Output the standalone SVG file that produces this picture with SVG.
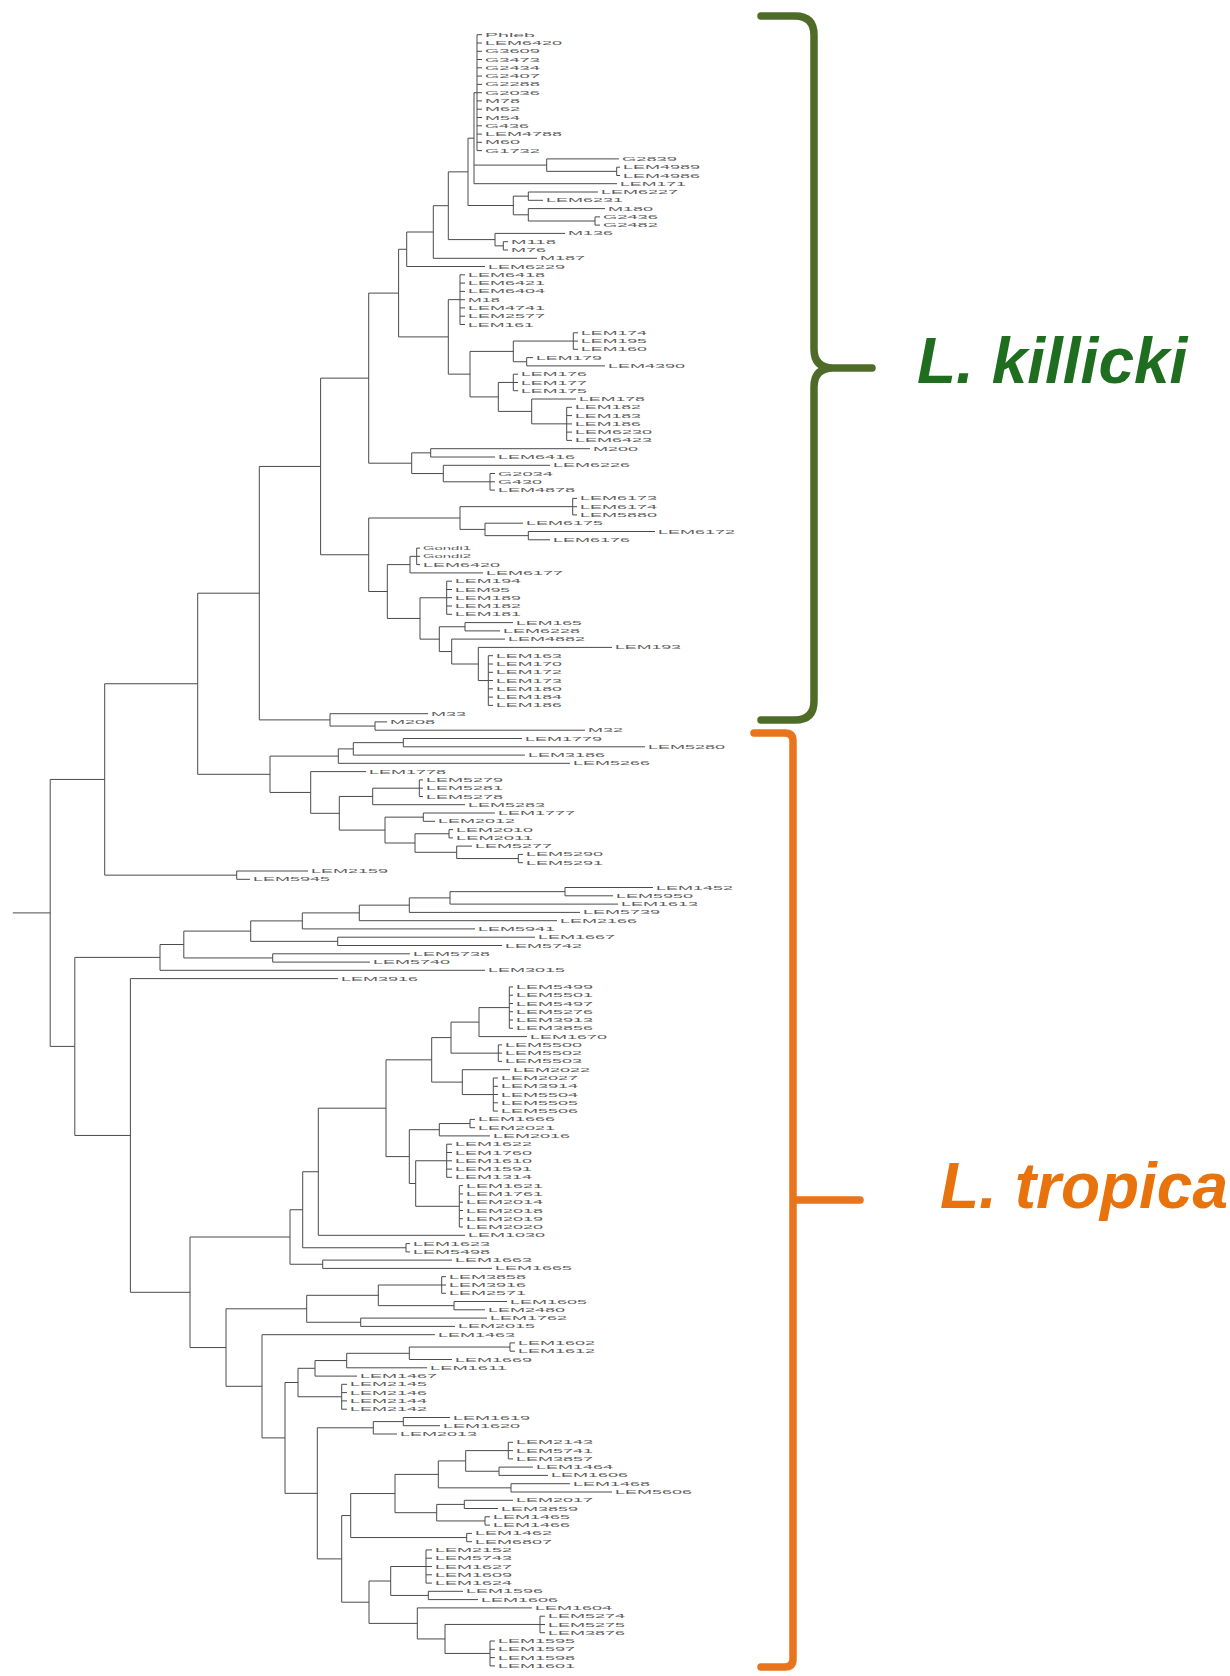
<svg xmlns="http://www.w3.org/2000/svg" width="1230" height="1676" viewBox="0 0 1230 1676">
<style>
.br{fill:none;stroke:#4a4a4a;stroke-width:1}
.lb{font-family:"Liberation Sans",Arial,sans-serif;font-size:6px;fill:#5e5e5e;dominant-baseline:central}
.clade{font-family:"Liberation Sans",Arial,sans-serif;font-size:64px;font-weight:bold;font-style:italic}
</style>
<rect width="1230" height="1676" fill="#fff"/>
<g id="connectors">
<path class="br" d="M477,34.7V150.6M477,34.7H482M477,43H482M477,51.3H482M477,59.5H482M477,67.8H482M477,76.1H482M477,84.4H482M477,92.7H482M477,100.9H482M477,109.2H482M477,117.5H482M477,125.8H482M477,134.1H482M477,142.3H482M477,150.6H482"/>
<path class="br" d="M616.7,167.2V175.5M616.7,167.2H620M616.7,175.5H620"/>
<path class="br" d="M546.7,158.9V171.35M546.7,158.9H619M546.7,171.35H616.7"/>
<path class="br" d="M474,92.7V183.7M474,92.7H477M474,165.1H546.7M474,183.7H617"/>
<path class="br" d="M528.3,192V200.3M528.3,192H598M528.3,200.3H543"/>
<path class="br" d="M595,216.9V225.1M595,216.9H600M595,225.1H600"/>
<path class="br" d="M528.3,208.6V221M528.3,208.6H605M528.3,221H595"/>
<path class="br" d="M513.3,196.15V214.8M513.3,196.15H528.3M513.3,214.8H528.3"/>
<path class="br" d="M468,138.2V205.5M468,138.2H474M468,205.5H513.3"/>
<path class="br" d="M503.3,241.7V250M503.3,241.7H508M503.3,250H508"/>
<path class="br" d="M495,233.4V245.85M495,233.4H565M495,245.85H503.3"/>
<path class="br" d="M448.3,171.85V239.6M448.3,171.85H468M448.3,239.6H495"/>
<path class="br" d="M433.3,205.7V258.3M433.3,205.7H448.3M433.3,258.3H537"/>
<path class="br" d="M406.7,232V266.5M406.7,232H433.3M406.7,266.5H485"/>
<path class="br" d="M460,274.8V324.5M460,274.8H465M460,283.1H465M460,291.4H465M460,299.7H465M460,307.9H465M460,316.2H465M460,324.5H465"/>
<path class="br" d="M573.3,332.8V349.3M573.3,332.8H578M573.3,341.1H578M573.3,349.3H578"/>
<path class="br" d="M526.7,357.6V365.9M526.7,357.6H533M526.7,365.9H605"/>
<path class="br" d="M513.3,341.05V361.75M513.3,341.05H573.3M513.3,361.75H526.7"/>
<path class="br" d="M513.3,374.2V390.7M513.3,374.2H518M513.3,382.5H518M513.3,390.7H518"/>
<path class="br" d="M566.7,407.3V440.4M566.7,407.3H572M566.7,415.6H572M566.7,423.9H572M566.7,432.1H572M566.7,440.4H572"/>
<path class="br" d="M531.7,399V423.85M531.7,399H576M531.7,423.85H566.7"/>
<path class="br" d="M498.3,382.45V411.4M498.3,382.45H513.3M498.3,411.4H531.7"/>
<path class="br" d="M470,351.4V396.9M470,351.4H513.3M470,396.9H498.3"/>
<path class="br" d="M448.3,299.65V374.15M448.3,299.65H460M448.3,374.15H470"/>
<path class="br" d="M398.6,249.25V336.9M398.6,249.25H406.7M398.6,336.9H448.3"/>
<path class="br" d="M430.7,448.7V457M430.7,448.7H590M430.7,457H495"/>
<path class="br" d="M490,473.5V490.1M490,473.5H495M490,481.8H495M490,490.1H495"/>
<path class="br" d="M443.3,465.3V481.8M443.3,465.3H550M443.3,481.8H490"/>
<path class="br" d="M411.7,452.85V473.55M411.7,452.85H430.7M411.7,473.55H443.3"/>
<path class="br" d="M368.7,293.1V463.2M368.7,293.1H398.6M368.7,463.2H411.7"/>
<path class="br" d="M572.7,498.4V514.9M572.7,498.4H577M572.7,506.7H577M572.7,514.9H577"/>
<path class="br" d="M528.3,531.5V539.8M528.3,531.5H655M528.3,539.8H550"/>
<path class="br" d="M485,523.2V535.65M485,523.2H523M485,535.65H528.3"/>
<path class="br" d="M460,506.65V529.4M460,506.65H572.7M460,529.4H485"/>
<path class="br" d="M416.7,548.1V564.6M416.7,548.1H420M416.7,556.3H420M416.7,564.6H420"/>
<path class="br" d="M410,556.35V572.9M410,556.35H416.7M410,572.9H483"/>
<path class="br" d="M446.7,581.2V614.3M446.7,581.2H452M446.7,589.5H452M446.7,597.7H452M446.7,606H452M446.7,614.3H452"/>
<path class="br" d="M465,622.6V630.9M465,622.6H513M465,630.9H500"/>
<path class="br" d="M488.3,655.7V705.4M488.3,655.7H493M488.3,664H493M488.3,672.3H493M488.3,680.5H493M488.3,688.8H493M488.3,697.1H493M488.3,705.4H493"/>
<path class="br" d="M478.3,647.4V680.55M478.3,647.4H612M478.3,680.55H488.3"/>
<path class="br" d="M451.7,639.1V664M451.7,639.1H505M451.7,664H478.3"/>
<path class="br" d="M439.3,626.75V651.55M439.3,626.75H465M439.3,651.55H451.7"/>
<path class="br" d="M420,597.75V639.15M420,597.75H446.7M420,639.15H439.3"/>
<path class="br" d="M387.3,564.6V618.45M387.3,564.6H410M387.3,618.45H420"/>
<path class="br" d="M368.7,518V591.5M368.7,518H460M368.7,591.5H387.3"/>
<path class="br" d="M320.6,378.15V554.75M320.6,378.15H368.7M320.6,554.75H368.7"/>
<path class="br" d="M375,721.9V730.2M375,721.9H387M375,730.2H585"/>
<path class="br" d="M330,713.7V726.05M330,713.7H428M330,726.05H375"/>
<path class="br" d="M259.3,466.45V719.9M259.3,466.45H320.6M259.3,719.9H330"/>
<path class="br" d="M403.3,738.5V746.8M403.3,738.5H522M403.3,746.8H645"/>
<path class="br" d="M353.3,742.65V755.1M353.3,742.65H403.3M353.3,755.1H525"/>
<path class="br" d="M338.3,748.9V763.3M338.3,748.9H353.3M338.3,763.3H570"/>
<path class="br" d="M419.3,779.9V796.5M419.3,779.9H423M419.3,788.2H423M419.3,796.5H423"/>
<path class="br" d="M372.7,788.2V804.7M372.7,788.2H419.3M372.7,804.7H465"/>
<path class="br" d="M423.3,813V821.3M423.3,813H495M423.3,821.3H435"/>
<path class="br" d="M449,829.6V837.9M449,829.6H453M449,837.9H453"/>
<path class="br" d="M518.3,854.4V862.7M518.3,854.4H523M518.3,862.7H523"/>
<path class="br" d="M456.7,846.1V858.55M456.7,846.1H472M456.7,858.55H518.3"/>
<path class="br" d="M415,833.75V852.3M415,833.75H449M415,852.3H456.7"/>
<path class="br" d="M385,817.15V843M385,817.15H423.3M385,843H415"/>
<path class="br" d="M339.3,796.45V830.1M339.3,796.45H372.7M339.3,830.1H385"/>
<path class="br" d="M310.7,771.6V813.3M310.7,771.6H366M310.7,813.3H339.3"/>
<path class="br" d="M270,756.1V792.45M270,756.1H338.3M270,792.45H310.7"/>
<path class="br" d="M197.7,593.2V774.3M197.7,593.2H259.3M197.7,774.3H270"/>
<path class="br" d="M236.7,871V879.3M236.7,871H308M236.7,879.3H250"/>
<path class="br" d="M104.7,683.75V875.15M104.7,683.75H197.7M104.7,875.15H236.7"/>
<path class="br" d="M565,887.5V895.8M565,887.5H653M565,895.8H613"/>
<path class="br" d="M450,891.65V904.1M450,891.65H565M450,904.1H618"/>
<path class="br" d="M409.3,897.9V912.4M409.3,897.9H450M409.3,912.4H580"/>
<path class="br" d="M359.3,905.15V920.7M359.3,905.15H409.3M359.3,920.7H557"/>
<path class="br" d="M302.3,912.9V928.9M302.3,912.9H359.3M302.3,928.9H475"/>
<path class="br" d="M337.7,937.2V945.5M337.7,937.2H535M337.7,945.5H502"/>
<path class="br" d="M250.7,920.9V941.35M250.7,920.9H302.3M250.7,941.35H337.7"/>
<path class="br" d="M272.7,953.8V962.1M272.7,953.8H410M272.7,962.1H370"/>
<path class="br" d="M183.8,931.1V957.95M183.8,931.1H250.7M183.8,957.95H272.7"/>
<path class="br" d="M160,944.5V970.3M160,944.5H183.8M160,970.3H485"/>
<path class="br" d="M509.3,986.9V1028.3M509.3,986.9H513M509.3,995.2H513M509.3,1003.5H513M509.3,1011.7H513M509.3,1020H513M509.3,1028.3H513"/>
<path class="br" d="M479,1007.6V1036.6M479,1007.6H509.3M479,1036.6H527"/>
<path class="br" d="M498.3,1044.9V1061.4M498.3,1044.9H502M498.3,1053.1H502M498.3,1061.4H502"/>
<path class="br" d="M451,1022.1V1053.15M451,1022.1H479M451,1053.15H498.3"/>
<path class="br" d="M493.3,1078V1111.1M493.3,1078H498M493.3,1086.3H498M493.3,1094.5H498M493.3,1102.8H498M493.3,1111.1H498"/>
<path class="br" d="M462.3,1069.7V1094.55M462.3,1069.7H510M462.3,1094.55H493.3"/>
<path class="br" d="M431.7,1037.6V1082.1M431.7,1037.6H451M431.7,1082.1H462.3"/>
<path class="br" d="M470,1119.4V1127.7M470,1119.4H475M470,1127.7H475"/>
<path class="br" d="M439.3,1123.55V1135.9M439.3,1123.55H470M439.3,1135.9H490"/>
<path class="br" d="M446.7,1144.2V1177.3M446.7,1144.2H452M446.7,1152.5H452M446.7,1160.8H452M446.7,1169.1H452M446.7,1177.3H452"/>
<path class="br" d="M459.3,1185.6V1227M459.3,1185.6H463M459.3,1193.9H463M459.3,1202.2H463M459.3,1210.5H463M459.3,1218.7H463M459.3,1227H463"/>
<path class="br" d="M415.7,1160.75V1206.3M415.7,1160.75H446.7M415.7,1206.3H459.3"/>
<path class="br" d="M409.3,1129.7V1183.5M409.3,1129.7H439.3M409.3,1183.5H415.7"/>
<path class="br" d="M386,1059.85V1156.6M386,1059.85H431.7M386,1156.6H409.3"/>
<path class="br" d="M318.3,1108.2V1235.3M318.3,1108.2H386M318.3,1235.3H465"/>
<path class="br" d="M406,1243.6V1251.9M406,1243.6H410M406,1251.9H410"/>
<path class="br" d="M302.7,1171.75V1247.75M302.7,1171.75H318.3M302.7,1247.75H406"/>
<path class="br" d="M322.7,1260.1V1268.4M322.7,1260.1H452M322.7,1268.4H492"/>
<path class="br" d="M441.7,1276.7V1293.3M441.7,1276.7H446M441.7,1285H446M441.7,1293.3H446"/>
<path class="br" d="M454,1301.5V1309.8M454,1301.5H507M454,1309.8H485"/>
<path class="br" d="M378.3,1285V1305.65M378.3,1285H441.7M378.3,1305.65H454"/>
<path class="br" d="M360.7,1318.1V1326.4M360.7,1318.1H487M360.7,1326.4H455"/>
<path class="br" d="M306.7,1295.3V1322.25M306.7,1295.3H378.3M306.7,1322.25H360.7"/>
<path class="br" d="M510,1342.9V1351.2M510,1342.9H515M510,1351.2H515"/>
<path class="br" d="M409.3,1347.05V1359.5M409.3,1347.05H510M409.3,1359.5H452"/>
<path class="br" d="M346.7,1353.3V1367.8M346.7,1353.3H409.3M346.7,1367.8H427"/>
<path class="br" d="M315,1360.55V1376.1M315,1360.55H346.7M315,1376.1H357"/>
<path class="br" d="M341.7,1384.3V1409.2M341.7,1384.3H347M341.7,1392.6H347M341.7,1400.9H347M341.7,1409.2H347"/>
<path class="br" d="M403.3,1417.5V1425.7M403.3,1417.5H450M403.3,1425.7H440"/>
<path class="br" d="M373.3,1421.6V1434M373.3,1421.6H403.3M373.3,1434H397"/>
<path class="br" d="M508.3,1442.3V1458.9M508.3,1442.3H513M508.3,1450.6H513M508.3,1458.9H513"/>
<path class="br" d="M499,1467.1V1475.4M499,1467.1H533M499,1475.4H548"/>
<path class="br" d="M465.7,1450.6V1471.25M465.7,1450.6H508.3M465.7,1471.25H499"/>
<path class="br" d="M511,1483.7V1492M511,1483.7H570M511,1492H612"/>
<path class="br" d="M438.3,1460.9V1487.85M438.3,1460.9H465.7M438.3,1487.85H511"/>
<path class="br" d="M464.3,1500.3V1508.5M464.3,1500.3H513M464.3,1508.5H498"/>
<path class="br" d="M485,1516.8V1525.1M485,1516.8H490M485,1525.1H490"/>
<path class="br" d="M436.7,1504.4V1520.95M436.7,1504.4H464.3M436.7,1520.95H485"/>
<path class="br" d="M395,1474.4V1512.7M395,1474.4H438.3M395,1512.7H436.7"/>
<path class="br" d="M466.7,1533.4V1541.7M466.7,1533.4H472M466.7,1541.7H472"/>
<path class="br" d="M350.7,1493.55V1537.55M350.7,1493.55H395M350.7,1537.55H466.7"/>
<path class="br" d="M426,1549.9V1583.1M426,1549.9H432M426,1558.2H432M426,1566.5H432M426,1574.8H432M426,1583.1H432"/>
<path class="br" d="M428.3,1591.3V1599.6M428.3,1591.3H463M428.3,1599.6H478"/>
<path class="br" d="M390.7,1566.5V1595.45M390.7,1566.5H426M390.7,1595.45H428.3"/>
<path class="br" d="M540,1616.2V1632.7M540,1616.2H545M540,1624.5H545M540,1632.7H545"/>
<path class="br" d="M490,1641V1665.9M490,1641H495M490,1649.3H495M490,1657.6H495M490,1665.9H495"/>
<path class="br" d="M445,1624.45V1653.45M445,1624.45H540M445,1653.45H490"/>
<path class="br" d="M417.3,1607.9V1638.95M417.3,1607.9H532M417.3,1638.95H445"/>
<path class="br" d="M369,1581V1623.4M369,1581H390.7M369,1623.4H417.3"/>
<path class="br" d="M341.7,1515.55V1602.2M341.7,1515.55H350.7M341.7,1602.2H369"/>
<path class="br" d="M317.3,1427.8V1558.9M317.3,1427.8H373.3M317.3,1558.9H341.7"/>
<path class="br" d="M290,1209.75V1264.25M290,1209.75H302.7M290,1264.25H322.7"/>
<path class="br" d="M298,1368.3V1396.75M298,1368.3H315M298,1396.75H341.7"/>
<path class="br" d="M285,1382.5V1493.35M285,1382.5H298M285,1493.35H317.3"/>
<path class="br" d="M262,1334.7V1437.9M262,1334.7H435M262,1437.9H285"/>
<path class="br" d="M226,1308.8V1386.3M226,1308.8H306.7M226,1386.3H262"/>
<path class="br" d="M190,1237V1347.55M190,1237H290M190,1347.55H226"/>
<path class="br" d="M130.4,978.6V1292.3M130.4,978.6H338M130.4,1292.3H190"/>
<path class="br" d="M74.8,957.4V1135.45M74.8,957.4H160M74.8,1135.45H130.4"/>
<path class="br" d="M50.2,779.45V1046.4M50.2,779.45H104.7M50.2,1046.4H74.8M12.8,912.9H50.2"/>
</g>
<g id="leaves">
<text class="lb" id="l0" x="485" y="34.7" textLength="50" lengthAdjust="spacingAndGlyphs">Phleb</text>
<text class="lb" id="l1" x="485" y="43" textLength="77" lengthAdjust="spacingAndGlyphs">LEM6420</text>
<text class="lb" id="l2" x="485" y="51.3" textLength="55" lengthAdjust="spacingAndGlyphs">G3609</text>
<text class="lb" id="l3" x="485" y="59.5" textLength="55" lengthAdjust="spacingAndGlyphs">G3473</text>
<text class="lb" id="l4" x="485" y="67.8" textLength="55" lengthAdjust="spacingAndGlyphs">G2434</text>
<text class="lb" id="l5" x="485" y="76.1" textLength="55" lengthAdjust="spacingAndGlyphs">G2407</text>
<text class="lb" id="l6" x="485" y="84.4" textLength="55" lengthAdjust="spacingAndGlyphs">G2288</text>
<text class="lb" id="l7" x="485" y="92.7" textLength="55" lengthAdjust="spacingAndGlyphs">G2036</text>
<text class="lb" id="l8" x="485" y="100.9" textLength="35" lengthAdjust="spacingAndGlyphs">M78</text>
<text class="lb" id="l9" x="485" y="109.2" textLength="35" lengthAdjust="spacingAndGlyphs">M62</text>
<text class="lb" id="l10" x="485" y="117.5" textLength="35" lengthAdjust="spacingAndGlyphs">M54</text>
<text class="lb" id="l11" x="485" y="125.8" textLength="44" lengthAdjust="spacingAndGlyphs">G436</text>
<text class="lb" id="l12" x="485" y="134.1" textLength="77" lengthAdjust="spacingAndGlyphs">LEM4788</text>
<text class="lb" id="l13" x="485" y="142.3" textLength="35" lengthAdjust="spacingAndGlyphs">M60</text>
<text class="lb" id="l14" x="485" y="150.6" textLength="55" lengthAdjust="spacingAndGlyphs">G1732</text>
<text class="lb" id="l15" x="622" y="158.9" textLength="55" lengthAdjust="spacingAndGlyphs">G2839</text>
<text class="lb" id="l16" x="623" y="167.2" textLength="77" lengthAdjust="spacingAndGlyphs">LEM4989</text>
<text class="lb" id="l17" x="623" y="175.5" textLength="77" lengthAdjust="spacingAndGlyphs">LEM4986</text>
<text class="lb" id="l18" x="620" y="183.7" textLength="66" lengthAdjust="spacingAndGlyphs">LEM171</text>
<text class="lb" id="l19" x="601" y="192" textLength="77" lengthAdjust="spacingAndGlyphs">LEM6227</text>
<text class="lb" id="l20" x="546" y="200.3" textLength="77" lengthAdjust="spacingAndGlyphs">LEM6231</text>
<text class="lb" id="l21" x="608" y="208.6" textLength="45" lengthAdjust="spacingAndGlyphs">M180</text>
<text class="lb" id="l22" x="603" y="216.9" textLength="55" lengthAdjust="spacingAndGlyphs">G2436</text>
<text class="lb" id="l23" x="603" y="225.1" textLength="55" lengthAdjust="spacingAndGlyphs">G2482</text>
<text class="lb" id="l24" x="568" y="233.4" textLength="45" lengthAdjust="spacingAndGlyphs">M136</text>
<text class="lb" id="l25" x="511" y="241.7" textLength="45" lengthAdjust="spacingAndGlyphs">M118</text>
<text class="lb" id="l26" x="511" y="250" textLength="35" lengthAdjust="spacingAndGlyphs">M76</text>
<text class="lb" id="l27" x="540" y="258.3" textLength="45" lengthAdjust="spacingAndGlyphs">M187</text>
<text class="lb" id="l28" x="488" y="266.5" textLength="77" lengthAdjust="spacingAndGlyphs">LEM6229</text>
<text class="lb" id="l29" x="468" y="274.8" textLength="77" lengthAdjust="spacingAndGlyphs">LEM6418</text>
<text class="lb" id="l30" x="468" y="283.1" textLength="77" lengthAdjust="spacingAndGlyphs">LEM6421</text>
<text class="lb" id="l31" x="468" y="291.4" textLength="77" lengthAdjust="spacingAndGlyphs">LEM6404</text>
<text class="lb" id="l32" x="468" y="299.7" textLength="32" lengthAdjust="spacingAndGlyphs">M18</text>
<text class="lb" id="l33" x="468" y="307.9" textLength="77" lengthAdjust="spacingAndGlyphs">LEM4741</text>
<text class="lb" id="l34" x="468" y="316.2" textLength="77" lengthAdjust="spacingAndGlyphs">LEM2577</text>
<text class="lb" id="l35" x="468" y="324.5" textLength="66" lengthAdjust="spacingAndGlyphs">LEM161</text>
<text class="lb" id="l36" x="581" y="332.8" textLength="66" lengthAdjust="spacingAndGlyphs">LEM174</text>
<text class="lb" id="l37" x="581" y="341.1" textLength="66" lengthAdjust="spacingAndGlyphs">LEM195</text>
<text class="lb" id="l38" x="581" y="349.3" textLength="66" lengthAdjust="spacingAndGlyphs">LEM160</text>
<text class="lb" id="l39" x="536" y="357.6" textLength="66" lengthAdjust="spacingAndGlyphs">LEM179</text>
<text class="lb" id="l40" x="608" y="365.9" textLength="77" lengthAdjust="spacingAndGlyphs">LEM4390</text>
<text class="lb" id="l41" x="521" y="374.2" textLength="66" lengthAdjust="spacingAndGlyphs">LEM176</text>
<text class="lb" id="l42" x="521" y="382.5" textLength="66" lengthAdjust="spacingAndGlyphs">LEM177</text>
<text class="lb" id="l43" x="521" y="390.7" textLength="66" lengthAdjust="spacingAndGlyphs">LEM175</text>
<text class="lb" id="l44" x="579" y="399" textLength="66" lengthAdjust="spacingAndGlyphs">LEM178</text>
<text class="lb" id="l45" x="575" y="407.3" textLength="66" lengthAdjust="spacingAndGlyphs">LEM182</text>
<text class="lb" id="l46" x="575" y="415.6" textLength="66" lengthAdjust="spacingAndGlyphs">LEM183</text>
<text class="lb" id="l47" x="575" y="423.9" textLength="66" lengthAdjust="spacingAndGlyphs">LEM186</text>
<text class="lb" id="l48" x="575" y="432.1" textLength="77" lengthAdjust="spacingAndGlyphs">LEM6230</text>
<text class="lb" id="l49" x="575" y="440.4" textLength="77" lengthAdjust="spacingAndGlyphs">LEM6423</text>
<text class="lb" id="l50" x="593" y="448.7" textLength="45" lengthAdjust="spacingAndGlyphs">M200</text>
<text class="lb" id="l51" x="498" y="457" textLength="77" lengthAdjust="spacingAndGlyphs">LEM6416</text>
<text class="lb" id="l52" x="553" y="465.3" textLength="77" lengthAdjust="spacingAndGlyphs">LEM6226</text>
<text class="lb" id="l53" x="498" y="473.5" textLength="55" lengthAdjust="spacingAndGlyphs">G2034</text>
<text class="lb" id="l54" x="498" y="481.8" textLength="44" lengthAdjust="spacingAndGlyphs">G430</text>
<text class="lb" id="l55" x="498" y="490.1" textLength="77" lengthAdjust="spacingAndGlyphs">LEM4878</text>
<text class="lb" id="l56" x="580" y="498.4" textLength="77" lengthAdjust="spacingAndGlyphs">LEM6173</text>
<text class="lb" id="l57" x="580" y="506.7" textLength="77" lengthAdjust="spacingAndGlyphs">LEM6174</text>
<text class="lb" id="l58" x="580" y="514.9" textLength="77" lengthAdjust="spacingAndGlyphs">LEM5880</text>
<text class="lb" id="l59" x="526" y="523.2" textLength="77" lengthAdjust="spacingAndGlyphs">LEM6175</text>
<text class="lb" id="l60" x="658" y="531.5" textLength="77" lengthAdjust="spacingAndGlyphs">LEM6172</text>
<text class="lb" id="l61" x="553" y="539.8" textLength="77" lengthAdjust="spacingAndGlyphs">LEM6176</text>
<text class="lb" id="l62" x="423" y="548.1" textLength="48" lengthAdjust="spacingAndGlyphs">Gondi1</text>
<text class="lb" id="l63" x="423" y="556.3" textLength="48" lengthAdjust="spacingAndGlyphs">Gondi2</text>
<text class="lb" id="l64" x="423" y="564.6" textLength="77" lengthAdjust="spacingAndGlyphs">LEM6420</text>
<text class="lb" id="l65" x="486" y="572.9" textLength="77" lengthAdjust="spacingAndGlyphs">LEM6177</text>
<text class="lb" id="l66" x="455" y="581.2" textLength="66" lengthAdjust="spacingAndGlyphs">LEM194</text>
<text class="lb" id="l67" x="455" y="589.5" textLength="55" lengthAdjust="spacingAndGlyphs">LEM95</text>
<text class="lb" id="l68" x="455" y="597.7" textLength="66" lengthAdjust="spacingAndGlyphs">LEM189</text>
<text class="lb" id="l69" x="455" y="606" textLength="66" lengthAdjust="spacingAndGlyphs">LEM182</text>
<text class="lb" id="l70" x="455" y="614.3" textLength="66" lengthAdjust="spacingAndGlyphs">LEM181</text>
<text class="lb" id="l71" x="516" y="622.6" textLength="66" lengthAdjust="spacingAndGlyphs">LEM165</text>
<text class="lb" id="l72" x="503" y="630.9" textLength="77" lengthAdjust="spacingAndGlyphs">LEM6228</text>
<text class="lb" id="l73" x="508" y="639.1" textLength="77" lengthAdjust="spacingAndGlyphs">LEM4882</text>
<text class="lb" id="l74" x="615" y="647.4" textLength="66" lengthAdjust="spacingAndGlyphs">LEM193</text>
<text class="lb" id="l75" x="496" y="655.7" textLength="66" lengthAdjust="spacingAndGlyphs">LEM163</text>
<text class="lb" id="l76" x="496" y="664" textLength="66" lengthAdjust="spacingAndGlyphs">LEM170</text>
<text class="lb" id="l77" x="496" y="672.3" textLength="66" lengthAdjust="spacingAndGlyphs">LEM172</text>
<text class="lb" id="l78" x="496" y="680.5" textLength="66" lengthAdjust="spacingAndGlyphs">LEM173</text>
<text class="lb" id="l79" x="496" y="688.8" textLength="66" lengthAdjust="spacingAndGlyphs">LEM180</text>
<text class="lb" id="l80" x="496" y="697.1" textLength="66" lengthAdjust="spacingAndGlyphs">LEM184</text>
<text class="lb" id="l81" x="496" y="705.4" textLength="66" lengthAdjust="spacingAndGlyphs">LEM186</text>
<text class="lb" id="l82" x="431" y="713.7" textLength="35" lengthAdjust="spacingAndGlyphs">M33</text>
<text class="lb" id="l83" x="390" y="721.9" textLength="45" lengthAdjust="spacingAndGlyphs">M208</text>
<text class="lb" id="l84" x="588" y="730.2" textLength="35" lengthAdjust="spacingAndGlyphs">M32</text>
<text class="lb" id="l85" x="525" y="738.5" textLength="77" lengthAdjust="spacingAndGlyphs">LEM1779</text>
<text class="lb" id="l86" x="648" y="746.8" textLength="77" lengthAdjust="spacingAndGlyphs">LEM5280</text>
<text class="lb" id="l87" x="528" y="755.1" textLength="77" lengthAdjust="spacingAndGlyphs">LEM3186</text>
<text class="lb" id="l88" x="573" y="763.3" textLength="77" lengthAdjust="spacingAndGlyphs">LEM5266</text>
<text class="lb" id="l89" x="369" y="771.6" textLength="77" lengthAdjust="spacingAndGlyphs">LEM1778</text>
<text class="lb" id="l90" x="426" y="779.9" textLength="77" lengthAdjust="spacingAndGlyphs">LEM5279</text>
<text class="lb" id="l91" x="426" y="788.2" textLength="77" lengthAdjust="spacingAndGlyphs">LEM5281</text>
<text class="lb" id="l92" x="426" y="796.5" textLength="77" lengthAdjust="spacingAndGlyphs">LEM5278</text>
<text class="lb" id="l93" x="468" y="804.7" textLength="77" lengthAdjust="spacingAndGlyphs">LEM5283</text>
<text class="lb" id="l94" x="498" y="813" textLength="77" lengthAdjust="spacingAndGlyphs">LEM1777</text>
<text class="lb" id="l95" x="438" y="821.3" textLength="77" lengthAdjust="spacingAndGlyphs">LEM2012</text>
<text class="lb" id="l96" x="456" y="829.6" textLength="77" lengthAdjust="spacingAndGlyphs">LEM2010</text>
<text class="lb" id="l97" x="456" y="837.9" textLength="77" lengthAdjust="spacingAndGlyphs">LEM2011</text>
<text class="lb" id="l98" x="475" y="846.1" textLength="77" lengthAdjust="spacingAndGlyphs">LEM5277</text>
<text class="lb" id="l99" x="526" y="854.4" textLength="77" lengthAdjust="spacingAndGlyphs">LEM5290</text>
<text class="lb" id="l100" x="526" y="862.7" textLength="77" lengthAdjust="spacingAndGlyphs">LEM5291</text>
<text class="lb" id="l101" x="311" y="871" textLength="77" lengthAdjust="spacingAndGlyphs">LEM2159</text>
<text class="lb" id="l102" x="253" y="879.3" textLength="77" lengthAdjust="spacingAndGlyphs">LEM5945</text>
<text class="lb" id="l103" x="656" y="887.5" textLength="77" lengthAdjust="spacingAndGlyphs">LEM1452</text>
<text class="lb" id="l104" x="616" y="895.8" textLength="77" lengthAdjust="spacingAndGlyphs">LEM5950</text>
<text class="lb" id="l105" x="621" y="904.1" textLength="77" lengthAdjust="spacingAndGlyphs">LEM1613</text>
<text class="lb" id="l106" x="583" y="912.4" textLength="77" lengthAdjust="spacingAndGlyphs">LEM5739</text>
<text class="lb" id="l107" x="560" y="920.7" textLength="77" lengthAdjust="spacingAndGlyphs">LEM2166</text>
<text class="lb" id="l108" x="478" y="928.9" textLength="77" lengthAdjust="spacingAndGlyphs">LEM5941</text>
<text class="lb" id="l109" x="538" y="937.2" textLength="77" lengthAdjust="spacingAndGlyphs">LEM1667</text>
<text class="lb" id="l110" x="505" y="945.5" textLength="77" lengthAdjust="spacingAndGlyphs">LEM5742</text>
<text class="lb" id="l111" x="413" y="953.8" textLength="77" lengthAdjust="spacingAndGlyphs">LEM5738</text>
<text class="lb" id="l112" x="373" y="962.1" textLength="77" lengthAdjust="spacingAndGlyphs">LEM5740</text>
<text class="lb" id="l113" x="488" y="970.3" textLength="77" lengthAdjust="spacingAndGlyphs">LEM3015</text>
<text class="lb" id="l114" x="341" y="978.6" textLength="77" lengthAdjust="spacingAndGlyphs">LEM3916</text>
<text class="lb" id="l115" x="516" y="986.9" textLength="77" lengthAdjust="spacingAndGlyphs">LEM5499</text>
<text class="lb" id="l116" x="516" y="995.2" textLength="77" lengthAdjust="spacingAndGlyphs">LEM5501</text>
<text class="lb" id="l117" x="516" y="1003.5" textLength="77" lengthAdjust="spacingAndGlyphs">LEM5497</text>
<text class="lb" id="l118" x="516" y="1011.7" textLength="77" lengthAdjust="spacingAndGlyphs">LEM5276</text>
<text class="lb" id="l119" x="516" y="1020" textLength="77" lengthAdjust="spacingAndGlyphs">LEM3913</text>
<text class="lb" id="l120" x="516" y="1028.3" textLength="77" lengthAdjust="spacingAndGlyphs">LEM3856</text>
<text class="lb" id="l121" x="530" y="1036.6" textLength="77" lengthAdjust="spacingAndGlyphs">LEM1670</text>
<text class="lb" id="l122" x="505" y="1044.9" textLength="77" lengthAdjust="spacingAndGlyphs">LEM5500</text>
<text class="lb" id="l123" x="505" y="1053.1" textLength="77" lengthAdjust="spacingAndGlyphs">LEM5502</text>
<text class="lb" id="l124" x="505" y="1061.4" textLength="77" lengthAdjust="spacingAndGlyphs">LEM5503</text>
<text class="lb" id="l125" x="513" y="1069.7" textLength="77" lengthAdjust="spacingAndGlyphs">LEM2022</text>
<text class="lb" id="l126" x="501" y="1078" textLength="77" lengthAdjust="spacingAndGlyphs">LEM2027</text>
<text class="lb" id="l127" x="501" y="1086.3" textLength="77" lengthAdjust="spacingAndGlyphs">LEM3914</text>
<text class="lb" id="l128" x="501" y="1094.5" textLength="77" lengthAdjust="spacingAndGlyphs">LEM5504</text>
<text class="lb" id="l129" x="501" y="1102.8" textLength="77" lengthAdjust="spacingAndGlyphs">LEM5505</text>
<text class="lb" id="l130" x="501" y="1111.1" textLength="77" lengthAdjust="spacingAndGlyphs">LEM5506</text>
<text class="lb" id="l131" x="478" y="1119.4" textLength="77" lengthAdjust="spacingAndGlyphs">LEM1666</text>
<text class="lb" id="l132" x="478" y="1127.7" textLength="77" lengthAdjust="spacingAndGlyphs">LEM2021</text>
<text class="lb" id="l133" x="493" y="1135.9" textLength="77" lengthAdjust="spacingAndGlyphs">LEM2016</text>
<text class="lb" id="l134" x="455" y="1144.2" textLength="77" lengthAdjust="spacingAndGlyphs">LEM1622</text>
<text class="lb" id="l135" x="455" y="1152.5" textLength="77" lengthAdjust="spacingAndGlyphs">LEM1760</text>
<text class="lb" id="l136" x="455" y="1160.8" textLength="77" lengthAdjust="spacingAndGlyphs">LEM1610</text>
<text class="lb" id="l137" x="455" y="1169.1" textLength="77" lengthAdjust="spacingAndGlyphs">LEM1591</text>
<text class="lb" id="l138" x="455" y="1177.3" textLength="77" lengthAdjust="spacingAndGlyphs">LEM1314</text>
<text class="lb" id="l139" x="466" y="1185.6" textLength="77" lengthAdjust="spacingAndGlyphs">LEM1621</text>
<text class="lb" id="l140" x="466" y="1193.9" textLength="77" lengthAdjust="spacingAndGlyphs">LEM1761</text>
<text class="lb" id="l141" x="466" y="1202.2" textLength="77" lengthAdjust="spacingAndGlyphs">LEM2014</text>
<text class="lb" id="l142" x="466" y="1210.5" textLength="77" lengthAdjust="spacingAndGlyphs">LEM2018</text>
<text class="lb" id="l143" x="466" y="1218.7" textLength="77" lengthAdjust="spacingAndGlyphs">LEM2019</text>
<text class="lb" id="l144" x="466" y="1227" textLength="77" lengthAdjust="spacingAndGlyphs">LEM2020</text>
<text class="lb" id="l145" x="468" y="1235.3" textLength="77" lengthAdjust="spacingAndGlyphs">LEM1030</text>
<text class="lb" id="l146" x="413" y="1243.6" textLength="77" lengthAdjust="spacingAndGlyphs">LEM1623</text>
<text class="lb" id="l147" x="413" y="1251.9" textLength="77" lengthAdjust="spacingAndGlyphs">LEM5498</text>
<text class="lb" id="l148" x="455" y="1260.1" textLength="77" lengthAdjust="spacingAndGlyphs">LEM1663</text>
<text class="lb" id="l149" x="495" y="1268.4" textLength="77" lengthAdjust="spacingAndGlyphs">LEM1665</text>
<text class="lb" id="l150" x="449" y="1276.7" textLength="77" lengthAdjust="spacingAndGlyphs">LEM3858</text>
<text class="lb" id="l151" x="449" y="1285" textLength="77" lengthAdjust="spacingAndGlyphs">LEM3916</text>
<text class="lb" id="l152" x="449" y="1293.3" textLength="77" lengthAdjust="spacingAndGlyphs">LEM2571</text>
<text class="lb" id="l153" x="510" y="1301.5" textLength="77" lengthAdjust="spacingAndGlyphs">LEM1605</text>
<text class="lb" id="l154" x="488" y="1309.8" textLength="77" lengthAdjust="spacingAndGlyphs">LEM2480</text>
<text class="lb" id="l155" x="490" y="1318.1" textLength="77" lengthAdjust="spacingAndGlyphs">LEM1762</text>
<text class="lb" id="l156" x="458" y="1326.4" textLength="77" lengthAdjust="spacingAndGlyphs">LEM2015</text>
<text class="lb" id="l157" x="438" y="1334.7" textLength="77" lengthAdjust="spacingAndGlyphs">LEM1463</text>
<text class="lb" id="l158" x="518" y="1342.9" textLength="77" lengthAdjust="spacingAndGlyphs">LEM1602</text>
<text class="lb" id="l159" x="518" y="1351.2" textLength="77" lengthAdjust="spacingAndGlyphs">LEM1612</text>
<text class="lb" id="l160" x="455" y="1359.5" textLength="77" lengthAdjust="spacingAndGlyphs">LEM1669</text>
<text class="lb" id="l161" x="430" y="1367.8" textLength="77" lengthAdjust="spacingAndGlyphs">LEM1611</text>
<text class="lb" id="l162" x="360" y="1376.1" textLength="77" lengthAdjust="spacingAndGlyphs">LEM1467</text>
<text class="lb" id="l163" x="350" y="1384.3" textLength="77" lengthAdjust="spacingAndGlyphs">LEM2145</text>
<text class="lb" id="l164" x="350" y="1392.6" textLength="77" lengthAdjust="spacingAndGlyphs">LEM2146</text>
<text class="lb" id="l165" x="350" y="1400.9" textLength="77" lengthAdjust="spacingAndGlyphs">LEM2144</text>
<text class="lb" id="l166" x="350" y="1409.2" textLength="77" lengthAdjust="spacingAndGlyphs">LEM2142</text>
<text class="lb" id="l167" x="453" y="1417.5" textLength="77" lengthAdjust="spacingAndGlyphs">LEM1619</text>
<text class="lb" id="l168" x="443" y="1425.7" textLength="77" lengthAdjust="spacingAndGlyphs">LEM1620</text>
<text class="lb" id="l169" x="400" y="1434" textLength="77" lengthAdjust="spacingAndGlyphs">LEM2013</text>
<text class="lb" id="l170" x="516" y="1442.3" textLength="77" lengthAdjust="spacingAndGlyphs">LEM2143</text>
<text class="lb" id="l171" x="516" y="1450.6" textLength="77" lengthAdjust="spacingAndGlyphs">LEM5741</text>
<text class="lb" id="l172" x="516" y="1458.9" textLength="77" lengthAdjust="spacingAndGlyphs">LEM3857</text>
<text class="lb" id="l173" x="536" y="1467.1" textLength="77" lengthAdjust="spacingAndGlyphs">LEM1464</text>
<text class="lb" id="l174" x="551" y="1475.4" textLength="77" lengthAdjust="spacingAndGlyphs">LEM1606</text>
<text class="lb" id="l175" x="573" y="1483.7" textLength="77" lengthAdjust="spacingAndGlyphs">LEM1468</text>
<text class="lb" id="l176" x="615" y="1492" textLength="77" lengthAdjust="spacingAndGlyphs">LEM5606</text>
<text class="lb" id="l177" x="516" y="1500.3" textLength="77" lengthAdjust="spacingAndGlyphs">LEM2017</text>
<text class="lb" id="l178" x="501" y="1508.5" textLength="77" lengthAdjust="spacingAndGlyphs">LEM3859</text>
<text class="lb" id="l179" x="493" y="1516.8" textLength="77" lengthAdjust="spacingAndGlyphs">LEM1465</text>
<text class="lb" id="l180" x="493" y="1525.1" textLength="77" lengthAdjust="spacingAndGlyphs">LEM1466</text>
<text class="lb" id="l181" x="475" y="1533.4" textLength="77" lengthAdjust="spacingAndGlyphs">LEM1462</text>
<text class="lb" id="l182" x="475" y="1541.7" textLength="77" lengthAdjust="spacingAndGlyphs">LEM6807</text>
<text class="lb" id="l183" x="435" y="1549.9" textLength="77" lengthAdjust="spacingAndGlyphs">LEM2152</text>
<text class="lb" id="l184" x="435" y="1558.2" textLength="77" lengthAdjust="spacingAndGlyphs">LEM5743</text>
<text class="lb" id="l185" x="435" y="1566.5" textLength="77" lengthAdjust="spacingAndGlyphs">LEM1627</text>
<text class="lb" id="l186" x="435" y="1574.8" textLength="77" lengthAdjust="spacingAndGlyphs">LEM1609</text>
<text class="lb" id="l187" x="435" y="1583.1" textLength="77" lengthAdjust="spacingAndGlyphs">LEM1624</text>
<text class="lb" id="l188" x="466" y="1591.3" textLength="77" lengthAdjust="spacingAndGlyphs">LEM1596</text>
<text class="lb" id="l189" x="481" y="1599.6" textLength="77" lengthAdjust="spacingAndGlyphs">LEM1606</text>
<text class="lb" id="l190" x="535" y="1607.9" textLength="77" lengthAdjust="spacingAndGlyphs">LEM1604</text>
<text class="lb" id="l191" x="548" y="1616.2" textLength="77" lengthAdjust="spacingAndGlyphs">LEM5274</text>
<text class="lb" id="l192" x="548" y="1624.5" textLength="77" lengthAdjust="spacingAndGlyphs">LEM5275</text>
<text class="lb" id="l193" x="548" y="1632.7" textLength="77" lengthAdjust="spacingAndGlyphs">LEM3876</text>
<text class="lb" id="l194" x="498" y="1641" textLength="77" lengthAdjust="spacingAndGlyphs">LEM1595</text>
<text class="lb" id="l195" x="498" y="1649.3" textLength="77" lengthAdjust="spacingAndGlyphs">LEM1597</text>
<text class="lb" id="l196" x="498" y="1657.6" textLength="77" lengthAdjust="spacingAndGlyphs">LEM1598</text>
<text class="lb" id="l197" x="498" y="1665.9" textLength="77" lengthAdjust="spacingAndGlyphs">LEM1601</text>
</g>
<g id="killicki">
<path d="M761,16H795Q814,16 814,35V349Q814,368 833,368H872M833,368Q814,368 814,387V701Q814,720 795,720H761" fill="none" stroke="#4f6b28" stroke-width="7.5" stroke-linecap="round" stroke-linejoin="round"/>
<text class="clade" x="917" y="383" fill="#1f6e1f">L. killicki</text>
</g>
<g id="tropica">
<path d="M754,733H785Q793,733 793,741V1659Q793,1667 785,1667H761M793,1200H860" fill="none" stroke="#e8741c" stroke-width="7.5" stroke-linecap="round" stroke-linejoin="round"/>
<text class="clade" x="940" y="1208" fill="#e8720c">L. tropica</text>
</g>
</svg>
